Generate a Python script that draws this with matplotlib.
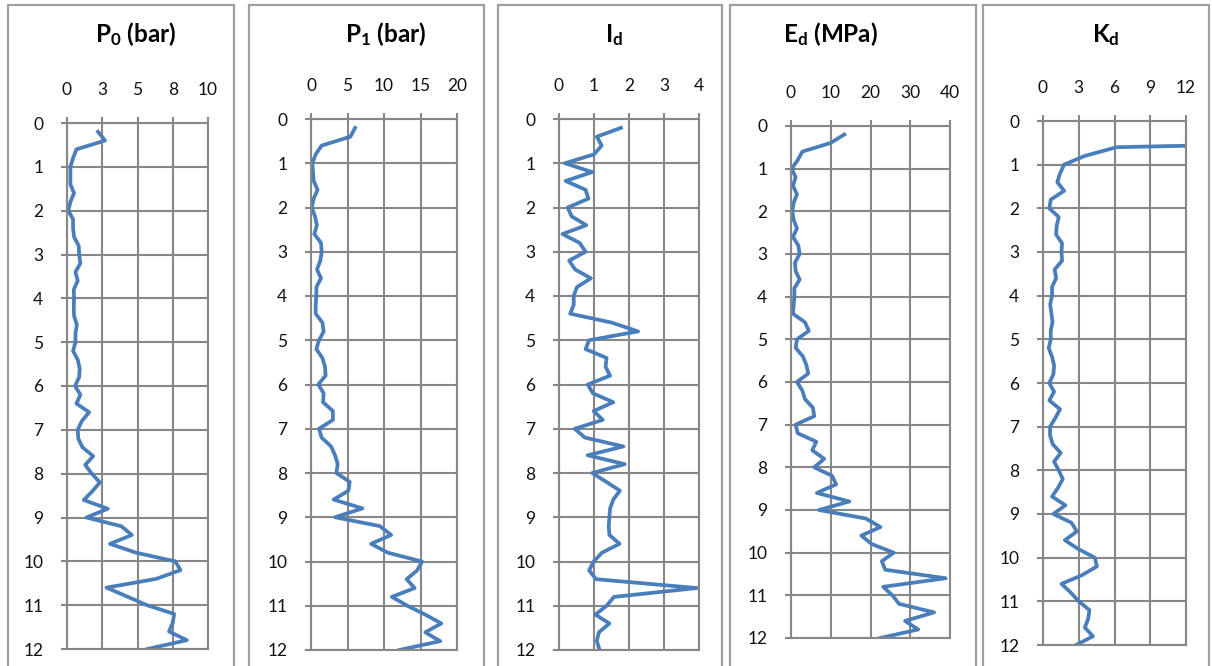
import matplotlib
matplotlib.use('Agg')
import matplotlib.pyplot as plt
from matplotlib.patches import Rectangle

# depth of each reading (m)
depth = [0.2, 0.4, 0.6, 0.8, 1.0, 1.2, 1.4, 1.6, 1.8, 2.0,
         2.2, 2.4, 2.6, 2.8, 3.0, 3.2, 3.4, 3.6, 3.8, 4.0,
         4.2, 4.4, 4.6, 4.8, 5.0, 5.2, 5.4, 5.6, 5.8, 6.0,
         6.2, 6.4, 6.6, 6.8, 7.0, 7.2, 7.4, 7.6, 7.8, 8.0,
         8.2, 8.4, 8.6, 8.8, 9.0, 9.2, 9.4, 9.6, 9.8, 10.0,
         10.2, 10.4, 10.6, 10.8, 11.0, 11.2, 11.4, 11.6, 11.8, 12.0]

p0 = [2.2, 2.7, 0.67, 0.43, 0.24, 0.24, 0.24, 0.5, 0.24, 0.1,
      0.43, 0.43, 0.5, 0.83, 0.86, 0.95, 0.6, 0.76, 0.48, 0.5,
      0.48, 0.5, 0.7, 0.6, 0.6, 0.43, 0.76, 0.9, 0.86, 0.57,
      0.95, 0.67, 1.57, 1.05, 0.76, 0.8, 1.1, 1.86, 1.29, 1.76,
      2.33, 1.8, 1.19, 2.9, 1.38, 3.86, 4.6, 3.05, 4.86, 7.67,
      8.05, 6.33, 2.8, 4.24, 5.67, 7.6, 7.5, 7.24, 8.5, 5.7]

p1 = [6.04, 5.4, 1.46, 0.64, 0.18, 0.27, 0.37, 0.9, 0.37, 0.1,
      0.55, 0.8, 0.46, 1.37, 1.46, 1.28, 0.82, 1.37, 0.73, 0.73,
      0.64, 0.64, 1.56, 1.74, 1.1, 0.73, 1.56, 1.92, 2.0, 1.0,
      1.74, 1.65, 3.0, 3.0, 1.1, 1.46, 2.75, 3.3, 3.66, 3.48,
      5.3, 5.13, 3.1, 7.05, 3.3, 9.43, 10.98, 8.24, 10.5, 15.2,
      14.55, 13.1, 14.2, 11.08, 13.2, 15.65, 17.85, 15.65, 17.7, 12.1]

i_d = [1.77, 1.08, 1.22, 1.0, 0.17, 0.95, 0.19, 0.76, 0.84, 0.25,
       0.36, 0.78, 0.1, 0.59, 0.76, 0.29, 0.46, 0.91, 0.51, 0.42,
       0.42, 0.32, 1.5, 2.26, 0.86, 0.76, 1.36, 1.33, 1.46, 0.82,
       0.97, 1.55, 0.99, 1.25, 0.45, 0.74, 1.84, 0.82, 1.88, 0.95,
       1.35, 1.74, 1.55, 1.46, 1.44, 1.42, 1.44, 1.73, 1.23, 0.99,
       0.86, 1.06, 3.94, 1.57, 1.36, 1.04, 1.44, 1.14, 1.08, 1.16]

e_d = [13.4, 9.9, 2.85, 1.68, 0.17, 1.17, 0.5, 1.5, 0.67, 0.34,
       0.67, 1.5, 0.5, 1.84, 2.18, 1.0, 1.17, 2.18, 0.84, 0.84,
       0.67, 0.5, 3.5, 4.5, 1.5, 1.17, 3.0, 3.85, 4.35, 1.5,
       2.85, 3.5, 5.5, 5.85, 1.17, 1.68, 6.35, 5.35, 8.35, 5.85,
       10.35, 11.35, 6.5, 14.7, 7.0, 18.85, 22.5, 17.7, 20.35, 25.85,
       22.85, 23.7, 38.9, 23.2, 25.5, 27.2, 36.0, 28.7, 32.0, 22.5]

k_d = [48.0, 41.0, 6.18, 3.5, 1.77, 1.43, 1.2, 1.77, 0.65, 0.53,
       1.32, 1.15, 1.1, 1.6, 1.55, 1.6, 0.98, 1.1, 0.76, 0.76,
       0.6, 0.7, 0.8, 0.65, 0.65, 0.48, 0.76, 0.93, 0.87, 0.53,
       0.93, 0.53, 1.43, 1.04, 0.59, 0.59, 0.81, 1.49, 0.93, 1.32,
       1.66, 1.26, 0.76, 1.88, 0.87, 2.39, 2.84, 1.83, 2.95, 4.35,
       4.52, 3.28, 1.55, 2.33, 3.0, 3.9, 3.79, 3.51, 4.19, 2.78]

titles = [r'$\mathregular{P_0}$ (bar)', r'$\mathregular{P_1}$ (bar)',
          r'$\mathregular{I_d}$', r'$\mathregular{E_d}$ (MPa)',
          r'$\mathregular{K_d}$']
series = [p0, p1, i_d, e_d, k_d]
xticks = [[0, 2.5, 5, 7.5, 10], [0, 5, 10, 15, 20], [0, 1, 2, 3, 4],
          [0, 10, 20, 30, 40], [0, 3, 6, 9, 12]]
xticklabels = [['0', '3', '5', '8', '10'], ['0', '5', '10', '15', '20'],
               ['0', '1', '2', '3', '4'], ['0', '10', '20', '30', '40'],
               ['0', '3', '6', '9', '12']]
yticks = [0, 1, 2, 3, 4, 5, 6, 7, 8, 9, 10, 11, 12]

# layout in pixels: plot area (l, t, r, b), frame (l, r), title centre x
plot_px = [(67, 123, 208, 649), (311, 119, 457, 650), (559, 119, 699, 650),
           (791, 126, 950, 638), (1043, 121, 1186, 645)]
frame_px = [(8, 234), (249, 484), (498, 722), (730, 976), (983, 1209)]
title_x = [136, 386, 614, 830, 1106]

W, H = 1212, 666
BLUE = '#4A7EBB'
GRID = '#878787'

plt.rcParams['font.family'] = ['Lato', 'DejaVu Sans']

fig = plt.figure(figsize=(W / 100, H / 100), dpi=100)

for i in range(5):
    fl, fr = frame_px[i]
    fig.patches.append(Rectangle((fl / W, -0.05), (fr - fl) / W, 1 - 5 / H + 0.05,
                                 transform=fig.transFigure, fill=False,
                                 edgecolor='#A0A0A0', linewidth=1.6))

    l, t, r, b = plot_px[i]
    ax = fig.add_axes([l / W, 1 - b / H, (r - l) / W, (b - t) / H])
    ax.plot(series[i], depth, color=BLUE, linewidth=2.7, solid_joinstyle='round')
    ax.set_xlim(xticks[i][0], xticks[i][-1])
    ax.set_ylim(12, 0)
    ax.set_xticks(xticks[i])
    ax.set_xticklabels(xticklabels[i])
    ax.set_yticks(yticks)
    ax.xaxis.tick_top()
    ax.grid(True, color=GRID, linewidth=1.5)
    ax.set_axisbelow(True)
    for s in ax.spines.values():
        s.set_color(GRID)
        s.set_linewidth(1.5)
    ax.tick_params(direction='out', length=4.5, width=1.5, color=GRID,
                   labelsize=12.5, labelcolor='#111111')
    ax.tick_params(axis='x', pad=13.5)
    ax.tick_params(axis='y', pad=12.5)

    fig.text(title_x[i] / W, 1 - 42 / H, titles[i], ha='center', va='baseline',
             fontsize=17.5, fontweight='bold')

fig.savefig('out.png', dpi=100)
